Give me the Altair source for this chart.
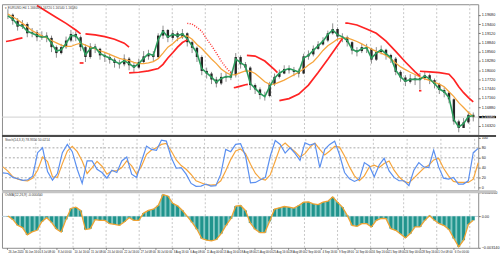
import altair as alt
import pandas as pd

# ---------------- data ----------------
close = [1.1968, 1.1950, 1.1932, 1.1940, 1.1912, 1.1915, 1.1900, 1.1905, 1.1898, 1.1870,
         1.1852, 1.1870, 1.1890, 1.1910, 1.1900, 1.1870, 1.1840, 1.1872, 1.1865, 1.1845,
         1.1840, 1.1832, 1.1822, 1.1818, 1.1835, 1.1815, 1.1808, 1.1825, 1.1842, 1.1848,
         1.1840, 1.1905, 1.1922, 1.1898, 1.1912, 1.1900, 1.1912, 1.1885, 1.1868, 1.1840,
         1.1798, 1.1790, 1.1772, 1.1760, 1.1780, 1.1778, 1.1785, 1.1840, 1.1818, 1.1808,
         1.1755, 1.1742, 1.1725, 1.1722, 1.1758, 1.1780, 1.1790, 1.1804, 1.1800, 1.1795,
         1.1790, 1.1842, 1.1848, 1.1865, 1.1878, 1.1890, 1.1912, 1.1925, 1.1902, 1.1900,
         1.1885, 1.1860, 1.1858, 1.1870, 1.1865, 1.1832, 1.1855, 1.1862, 1.1846, 1.1835,
         1.1795, 1.1778, 1.1765, 1.1775, 1.1770, 1.1776, 1.1785, 1.1770, 1.1758, 1.1740,
         1.1732, 1.1712, 1.1645, 1.1625, 1.1642, 1.1665, 1.1658]
high = [1.1985, 1.1972, 1.1958, 1.1952, 1.1945, 1.1928, 1.1922, 1.1918, 1.1915, 1.1905,
        1.1875, 1.1880, 1.1902, 1.1922, 1.1918, 1.1905, 1.1878, 1.1882, 1.1880, 1.1868,
        1.1855, 1.1850, 1.1838, 1.1832, 1.1848, 1.1840, 1.1822, 1.1835, 1.1858, 1.1862,
        1.1858, 1.1912, 1.1935, 1.1925, 1.1922, 1.1918, 1.1925, 1.1915, 1.1890, 1.1872,
        1.1845, 1.1808, 1.1795, 1.1780, 1.1792, 1.1795, 1.1798, 1.1852, 1.1845, 1.1825,
        1.1812, 1.1760, 1.1748, 1.1735, 1.1765, 1.1790, 1.1802, 1.1815, 1.1815, 1.1810,
        1.1805, 1.1850, 1.1860, 1.1875, 1.1888, 1.1900, 1.1920, 1.1942, 1.1930, 1.1912,
        1.1905, 1.1888, 1.1870, 1.1880, 1.1880, 1.1868, 1.1870, 1.1875, 1.1865, 1.1850,
        1.1840, 1.1800, 1.1785, 1.1788, 1.1785, 1.1792, 1.1795, 1.1790, 1.1775, 1.1762,
        1.1748, 1.1735, 1.1715, 1.1650, 1.1655, 1.1675, 1.1672]
low = [1.1955, 1.1938, 1.1920, 1.1925, 1.1900, 1.1900, 1.1888, 1.1892, 1.1885, 1.1855,
       1.1838, 1.1848, 1.1865, 1.1885, 1.1888, 1.1858, 1.1825, 1.1835, 1.1852, 1.1832,
       1.1825, 1.1820, 1.1808, 1.1805, 1.1812, 1.1800, 1.1795, 1.1805, 1.1820, 1.1832,
       1.1828, 1.1835, 1.1895, 1.1885, 1.1892, 1.1888, 1.1895, 1.1872, 1.1852, 1.1825,
       1.1785, 1.1775, 1.1758, 1.1748, 1.1755, 1.1765, 1.1770, 1.1778, 1.1805, 1.1795,
       1.1740, 1.1728, 1.1712, 1.1708, 1.1718, 1.1752, 1.1775, 1.1788, 1.1790, 1.1782,
       1.1778, 1.1788, 1.1832, 1.1842, 1.1862, 1.1875, 1.1885, 1.1908, 1.1890, 1.1885,
       1.1872, 1.1848, 1.1842, 1.1852, 1.1852, 1.1820, 1.1828, 1.1848, 1.1832, 1.1822,
       1.1785, 1.1765, 1.1752, 1.1760, 1.1755, 1.1742, 1.1770, 1.1758, 1.1745, 1.1728,
       1.1718, 1.1700, 1.1635, 1.1612, 1.1625, 1.1638, 1.1645]
ma_fast = [1.1965, 1.1955, 1.1938, 1.1934, 1.1918, 1.1912, 1.1905, 1.1900, 1.1902, 1.1882,
           1.1858, 1.1862, 1.1881, 1.1905, 1.1905, 1.1885, 1.1847, 1.1865, 1.1869, 1.1851,
           1.1843, 1.1837, 1.1827, 1.1820, 1.1829, 1.1820, 1.1810, 1.1820, 1.1836, 1.1850,
           1.1845, 1.1893, 1.1918, 1.1901, 1.1908, 1.1905, 1.1910, 1.1895, 1.1874, 1.1852,
           1.1805, 1.1792, 1.1779, 1.1764, 1.1775, 1.1781, 1.1780, 1.1834, 1.1823, 1.1813,
           1.1760, 1.1745, 1.1730, 1.1720, 1.1750, 1.1776, 1.1791, 1.1800, 1.1805, 1.1800,
           1.1795, 1.1837, 1.1845, 1.1860, 1.1874, 1.1888, 1.1908, 1.1922, 1.1908, 1.1901,
           1.1890, 1.1864, 1.1856, 1.1865, 1.1868, 1.1837, 1.1852, 1.1862, 1.1850, 1.1838,
           1.1800, 1.1780, 1.1767, 1.1772, 1.1773, 1.1772, 1.1783, 1.1774, 1.1760, 1.1743,
           1.1735, 1.1717, 1.1650, 1.1628, 1.1638, 1.1660, 1.1662]
ma_slow = [1.1970, 1.1962, 1.1953, 1.1942, 1.1932, 1.1920, 1.1912, 1.1904, 1.1898, 1.1890,
           1.1883, 1.1876, 1.1872, 1.1872, 1.1878, 1.1882, 1.1876, 1.1870, 1.1865, 1.1859,
           1.1854, 1.1848, 1.1842, 1.1836, 1.1832, 1.1829, 1.1824, 1.1820, 1.1820, 1.1822,
           1.1826, 1.1835, 1.1852, 1.1870, 1.1880, 1.1894, 1.1902, 1.1904, 1.1894, 1.1878,
           1.1866, 1.1850, 1.1834, 1.1820, 1.1804, 1.1793, 1.1786, 1.1787, 1.1793, 1.1798,
           1.1797, 1.1790, 1.1778, 1.1765, 1.1757, 1.1758, 1.1764, 1.1770, 1.1778, 1.1786,
           1.1794, 1.1804, 1.1816, 1.1826, 1.1842, 1.1860, 1.1874, 1.1884, 1.1894, 1.1898,
           1.1898, 1.1893, 1.1887, 1.1880, 1.1872, 1.1864, 1.1857, 1.1852, 1.1845, 1.1835,
           1.1822, 1.1810, 1.1802, 1.1794, 1.1787, 1.1780, 1.1774, 1.1769, 1.1763, 1.1758,
           1.1750, 1.1735, 1.1720, 1.1702, 1.1687, 1.1672, 1.1660]

# Parabolic SAR segments: bar position, price, segment id
sar_t = [-0.4, 1, 2, 3,
         6, 8, 10, 12, 14, 15,
         16, 18, 20, 22, 24, 25,
         14.8, 15.6,
         25, 27, 29, 31, 32, 33, 34, 35, 36, 37,
         37, 38, 39, 40, 41, 42, 43, 44, 45, 46,
         46.6, 47, 48, 49, 49.5,
         49.3, 51, 53, 55, 55.6,
         56, 58, 60, 62, 64, 66, 68, 69,
         69.6, 70, 72, 74, 76, 78, 80, 82, 84, 85,
         84.8, 85.3,
         85, 87, 89, 91, 92, 93, 94, 95, 96]
sar_p = [1.1887, 1.1891, 1.1895, 1.1898,
         1.1996, 1.1978, 1.1960, 1.1942, 1.1922, 1.1910,
         1.1910, 1.1907, 1.1902, 1.1894, 1.1882, 1.1870,
         1.1822, 1.1822,
         1.1792, 1.1794, 1.1798, 1.1805, 1.1818, 1.1837, 1.1853, 1.1870, 1.1884, 1.1892,
         1.1942, 1.1940, 1.1930, 1.1918, 1.1895, 1.1875, 1.1852, 1.1828, 1.1808, 1.1792,
         1.1747, 1.1748, 1.1752, 1.1756, 1.1757,
         1.1845, 1.1843, 1.1828, 1.1802, 1.1793,
         1.1708, 1.1714, 1.1728, 1.1755, 1.1793, 1.1833, 1.1875, 1.1896,
         1.1943, 1.1943, 1.1937, 1.1925, 1.1912, 1.1888, 1.1857, 1.1825, 1.1795, 1.1782,
         1.1738, 1.1738,
         1.1797, 1.1795, 1.1793, 1.1788, 1.1772, 1.1750, 1.1732, 1.1717, 1.1704]
sar_seg = [1] * 4 + [2] * 6 + [3] * 6 + [4] * 2 + [5] * 10 + [6] * 10 + [7] * 5 + \
          [8] * 5 + [9] * 8 + [10] * 10 + [11] * 2 + [12] * 9
sar_dotted_segments = [6]

stoch_main = [29.8, 28.5, 20.6, 17.9, 14.6, 15.9, 23.2, 70.3, 80.2, 32.5,
              15.2, 28.5, 70.3, 86.9, 72.3, 37.1, 8.6, 53.7, 53.7, 37.1,
              30.5, 19.2, 35.1, 30.5, 53.7, 61.7, 27.2, 20.6, 53.7, 83.5,
              76.9, 74.9, 95.5, 93.5, 60.3, 39.1, 40.4, 27.2, 8.6, 2.7,
              3.3, 7.3, 3.3, 4.0, 27.2, 76.9, 72.3, 86.9, 88.2, 63.6,
              9.9, 10.6, 15.9, 20.6, 63.6, 94.8, 86.9, 69.6, 80.2, 69.0,
              55.0, 90.2, 85.5, 88.8, 40.4, 76.9, 86.9, 93.5, 65.6, 30.5,
              17.9, 12.6, 17.2, 50.4, 43.8, 21.9, 45.7, 59.0, 33.8, 20.6,
              13.9, 13.9, 4.0, 35.1, 50.4, 41.8, 40.4, 75.6, 41.8, 19.2,
              17.2, 20.6, 7.3, 7.3, 13.9, 70.3, 78.9]
stoch_signal = [41.8, 33.2, 21.9, 17.2, 14.6, 13.9, 19.2, 35.1, 61.7, 52.4,
                21.9, 20.6, 48.4, 73.6, 82.9, 72.3, 53.7, 28.5, 40.4, 53.0,
                43.1, 27.2, 33.8, 33.8, 40.4, 53.7, 43.8, 27.2, 43.8, 67.0,
                75.6, 80.2, 86.9, 88.8, 73.6, 55.7, 44.4, 37.1, 26.5, 13.9,
                9.9, 6.0, 5.3, 6.0, 13.9, 33.8, 56.4, 73.6, 77.6, 68.3,
                47.1, 28.5, 17.9, 15.2, 25.9, 53.7, 81.5, 89.5, 80.2, 72.3,
                61.7, 68.3, 81.5, 89.5, 76.9, 65.6, 73.6, 82.9, 81.5, 63.6,
                41.8, 23.9, 13.9, 23.9, 41.8, 45.1, 40.4, 48.4, 53.7, 35.1,
                21.9, 12.6, 9.9, 19.2, 29.2, 39.1, 45.1, 55.7, 59.0, 39.1,
                23.9, 12.6, 10.6, 10.6, 10.6, 17.2, 50.0]
osma = [0.000033, -0.000300, -0.000900, -0.001133, -0.001867, -0.001567, -0.001400, -0.000533, -0.000133, -0.000600,
        -0.001267, -0.001567, -0.000300, 0.000800, 0.000933, 0.000600, -0.001333, -0.001233, -0.000333, -0.000400,
        -0.000400, -0.000733, -0.000800, -0.000900, -0.000567, -0.000133, -0.000400, -0.000400, 0.000333, 0.000600,
        0.000733, 0.001100, 0.002200, 0.002067, 0.001333, 0.001067, 0.000600, 0.000000, -0.000600, -0.001300,
        -0.002233, -0.002400, -0.002467, -0.002333, -0.001733, -0.000900, -0.000233, 0.001033, 0.001100, 0.000600,
        -0.000667, -0.001300, -0.001633, -0.001633, -0.000500, 0.000733, 0.000867, 0.001000, 0.000933, 0.000833,
        0.001100, 0.001433, 0.001467, 0.001267, 0.001200, 0.001433, 0.001533, 0.001967, 0.001433, 0.000933,
        0.000100, -0.000900, -0.001000, -0.000733, -0.000733, -0.001067, -0.000400, -0.000200, -0.000233, -0.001233,
        -0.001400, -0.001767, -0.002167, -0.001733, -0.001067, -0.001067, -0.000400, 0.000067, -0.000400, -0.000733,
        -0.000933, -0.001333, -0.002233, -0.003067, -0.002400, -0.000800, -0.000400]

price_ticks = [1.1968, 1.1940, 1.1912, 1.1884, 1.1856, 1.1828, 1.1800,
               1.1772, 1.1744, 1.1716, 1.1688, 1.1660, 1.1632]
stoch_ticks = [0, 20, 40, 60, 80, 100]
stoch_levels = [20, 40, 60, 80]
osma_ticks = [0.00246, 0.0, -0.00314]
time_labels = ["26 Jun 2020", "30 Jun 16:00", "3 Jul 08:00", "8 Jul 00:00", "10 Jul 16:00",
               "15 Jul 08:00", "20 Jul 00:00", "22 Jul 16:00", "27 Jul 08:00", "30 Jul 00:00",
               "3 Aug 16:00", "6 Aug 08:00", "11 Aug 00:00", "13 Aug 16:00", "18 Aug 08:00",
               "21 Aug 00:00", "25 Aug 16:00", "28 Aug 08:00", "2 Sep 00:00", "4 Sep 16:00",
               "9 Sep 08:00", "14 Sep 00:00", "16 Sep 16:00", "21 Sep 08:00", "24 Sep 00:00",
               "28 Sep 16:00", "1 Oct 08:00", "6 Oct 00:00"]
main_title = "\u25be EURUSD,H4 1.16600 1.16720 1.16540 1.16580"
stoch_title = "Stoch(14,3,3) 78.9310 50.0214"
osma_title = "OsMA(12,26,9) -0.000400"

# ---------------- tables ----------------
n = len(close)
bars = pd.DataFrame({
    "t": list(range(n)),
    "open": [close[0]] + close[:-1],
    "high": high, "low": low, "close": close,
    "fast": ma_fast, "slow": ma_slow,
    "k": stoch_main, "d": stoch_signal, "osma": osma,
})
sar = pd.DataFrame({"t": sar_t, "p": sar_p, "seg": sar_seg})
sar["dotted"] = sar["seg"].isin(sar_dotted_segments)

W = 481                      # plot width (px); 5 px per bar
X0 = -0.2                    # left end of the bar axis
STEP = 3.41                  # bars between two time labels
label_t = [round(STEP * k + X0, 3) for k in range(len(time_labels))]
grid_t = pd.DataFrame({"t": [round(STEP * k + X0, 3) for k in range(2, 29, 2)]})
last_price = close[-1]
box = pd.DataFrame({"p": [last_price], "top": [last_price + 0.00032],
                    "bot": [last_price - 0.00032], "txt": [f"{last_price:.5f}"]})

FONT = "Liberation Sans"
FS = 3.8
XFS = 2.8
TFS = 3.3
xscale = alt.Scale(domain=[X0, W / 5 + X0], nice=False, zero=False)
X = alt.X("t:Q", scale=xscale, axis=None)


def yaxis(values, **kw):
    return alt.Axis(orient="right", values=values, title=None, labelFontSize=FS,
                    labelFont=FONT, labelColor="#202020", tickColor="#707070",
                    tickSize=2, labelPadding=1, domain=False, grid=False,
                    labelOverlap=False, labelFlush=False, **kw)


# ---------------- main panel ----------------
yp_scale = alt.Scale(domain=[1.1604, 1.2000], nice=False, zero=False)
YP_AX = yaxis(price_ticks, format=".5f")


def YP(field):
    return alt.Y(field, scale=yp_scale, axis=YP_AX)


grid_main = alt.Chart(grid_t).mark_rule(color="#c6c6c6", strokeDash=[2, 2], strokeWidth=1).encode(x=X)
price_line = alt.Chart(box).mark_rule(color="#cfcfcf", strokeWidth=1).encode(y=YP("p:Q"))
wicks = alt.Chart(bars).mark_rule(color="#8e8e8e", strokeWidth=1).encode(
    x=X, y=YP("low:Q"), y2="high:Q")
bodies = alt.Chart(bars).mark_bar(size=2.4, color="#262626").encode(
    x=X, y=YP("open:Q"), y2="close:Q")
slow_line = alt.Chart(bars).mark_line(color="#f6a53c", strokeWidth=1.3).encode(x=X, y=YP("slow:Q"))
fast_line = alt.Chart(bars).mark_line(color="#2c9b5c", strokeWidth=1.6).encode(x=X, y=YP("fast:Q"))
sar_solid = alt.Chart(sar).transform_filter("!datum.dotted").mark_line(
    color="#ff2424", strokeWidth=1.7).encode(x=X, y=YP("p:Q"), detail="seg:N")
sar_dot = alt.Chart(sar).transform_filter("datum.dotted").mark_line(
    color="#ff3030", strokeWidth=1.5, strokeDash=[1, 1.5]).encode(x=X, y=YP("p:Q"), detail="seg:N")
title_main = alt.Chart(pd.DataFrame({"s": [main_title]})).mark_text(
    align="left", baseline="middle", fontSize=TFS, color="#404040", font=FONT).encode(
    x=alt.value(3), y=alt.value(3.5), text="s:N")
price_box = alt.Chart(box).mark_rect(color="#111111").encode(
    x=alt.value(W + 1), x2=alt.value(W + 18), y=YP("top:Q"), y2="bot:Q")
price_txt = alt.Chart(box).mark_text(align="left", baseline="middle", fontSize=FS,
                                     color="white", font=FONT).encode(
    x=alt.value(W + 3), y=YP("p:Q"), text="txt:N")

main = alt.layer(price_line, grid_main, wicks, bodies, slow_line, fast_line,
                 sar_solid, sar_dot, title_main, price_box, price_txt).properties(
    width=W, height=132)

# ---------------- stochastic panel ----------------
ys_scale = alt.Scale(domain=[-5.37, 105.96], nice=False, zero=False)
YS_AX = yaxis(stoch_ticks, format="d")


def YS(field):
    return alt.Y(field, scale=ys_scale, axis=YS_AX)


levels = alt.Chart(pd.DataFrame({"v": stoch_levels})).mark_rule(
    color="#a8a8a8", strokeDash=[2, 2], strokeWidth=1).encode(y=YS("v:Q"))
grid_st = alt.Chart(grid_t).mark_rule(color="#c6c6c6", strokeDash=[2, 2], strokeWidth=1).encode(x=X)
d_line = alt.Chart(bars).mark_line(color="#f6a53c", strokeWidth=1.2).encode(x=X, y=YS("d:Q"))
k_line = alt.Chart(bars).mark_line(color="#5a8ff0", strokeWidth=1.2).encode(x=X, y=YS("k:Q"))
sep1 = alt.Chart(pd.DataFrame({"a": [0]})).mark_rule(color="#4a4a4a", strokeWidth=2).encode(
    x=alt.value(0), x2=alt.value(W + 18), y=alt.value(1))
title_st = alt.Chart(pd.DataFrame({"s": [stoch_title]})).mark_text(
    align="left", baseline="middle", fontSize=TFS, color="#404040", font=FONT).encode(
    x=alt.value(3), y=alt.value(5), text="s:N")
stoch = alt.layer(levels, grid_st, d_line, k_line, sep1, title_st).properties(width=W, height=56)

# ---------------- OsMA panel ----------------
yo_scale = alt.Scale(domain=[-0.00317, 0.00263], nice=False, zero=False)
YO_AX = yaxis(osma_ticks, labelExpr="datum.value == 0 ? '0.00' : format(datum.value, '.6f')")
XA = alt.X("t:Q", scale=xscale, axis=alt.Axis(
    values=label_t, labelAlign="left", labelOffset=1, labelFlush=False,
    labelFontSize=XFS, labelFont=FONT, labelColor="#202020", tickColor="#707070",
    tickSize=1.5, labelPadding=1, domain=False, grid=False, labelOverlap=False,
    labelExpr="[" + ",".join(f"'{s}'" for s in time_labels) + f"][round((datum.value - ({X0})) / {STEP})]",
    title=None))


def YO(field):
    return alt.Y(field, scale=yo_scale, axis=YO_AX)


grid_os = alt.Chart(grid_t).mark_rule(color="#c6c6c6", strokeDash=[2, 2], strokeWidth=1).encode(x=XA)
zero = alt.Chart(pd.DataFrame({"v": [0.0], "t": [0.0]})).mark_rule(color="#b8cad6", strokeWidth=1).encode(
    y=YO("v:Q"))
o_area = alt.Chart(bars).mark_area(color="#86c9c4").encode(x=XA, y=YO("osma:Q"), y2=alt.datum(0))
o_bars = alt.Chart(bars).mark_bar(size=3, color="#20948d").encode(x=XA, y=YO("osma:Q"), y2=alt.datum(0))
o_line = alt.Chart(bars).mark_line(color="#f0a232", strokeWidth=1.3).encode(x=XA, y=YO("osma:Q"))
sep2 = alt.Chart(pd.DataFrame({"a": [0]})).mark_rule(color="#c4c4c4", strokeWidth=3).encode(
    x=alt.value(0), x2=alt.value(W + 18), y=alt.value(1.5))
title_os = alt.Chart(pd.DataFrame({"s": [osma_title]})).mark_text(
    align="left", baseline="middle", fontSize=TFS, color="#404040", font=FONT).encode(
    x=alt.value(3), y=alt.value(5), text="s:N")
osma_panel = alt.layer(grid_os, zero, o_area, o_bars, o_line, sep2, title_os).properties(
    width=W, height=58)

chart = alt.vconcat(main, stoch, osma_panel, spacing=0, padding=0, bounds="flush",
                    background="white").configure(
    font=FONT
).configure_view(
    stroke="#8c8c8c", strokeWidth=1
)

chart.save("out.html", embed_options={"renderer": "svg", "actions": False})
